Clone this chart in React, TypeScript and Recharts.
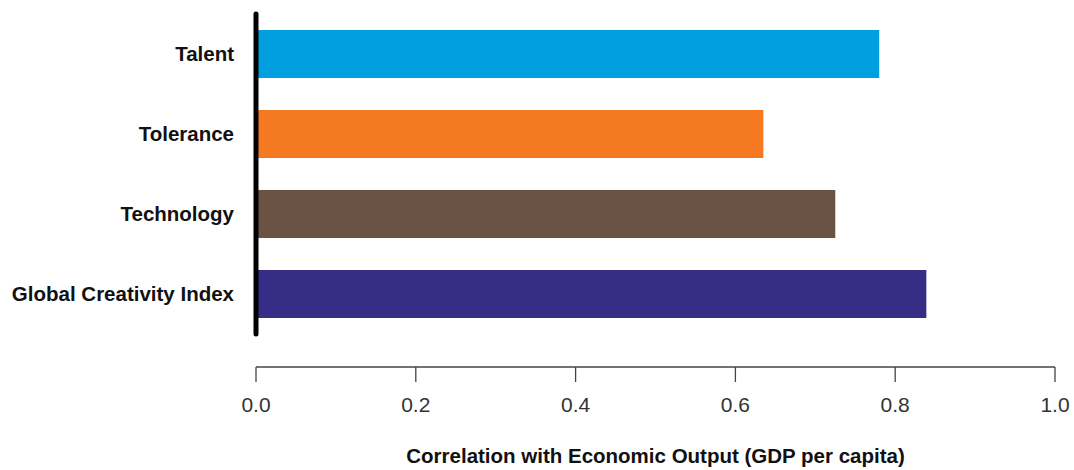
import React from "react";
import { BarChart, Bar, Cell, XAxis, YAxis } from "recharts";

const categories = ["Talent", "Tolerance", "Technology", "Global Creativity Index"];
const correlations = [0.78, 0.635, 0.725, 0.839];
const barColors = ["#009FDF", "#F47920", "#6B5344", "#352D86"];
const xTicks = [0, 0.2, 0.4, 0.6, 0.8, 1.0];

const data = categories.map((name, i) => ({ name, value: correlations[i] }));

const FONT = "'Liberation Sans', Arial, Helvetica, sans-serif";

export default function App() {
    return (
        <div style={{ position: "absolute", left: 0, top: 0, background: "#fff" }}>
            <BarChart
                width={1074}
                height={470}
                data={data}
                layout="vertical"
                margin={{ top: 14, right: 19, bottom: 0, left: 0 }}
            >
                <XAxis
                    type="number"
                    domain={[0, 1]}
                    ticks={xTicks}
                    tickFormatter={(v) => v.toFixed(1)}
                    axisLine={{ stroke: "#444", strokeWidth: 1.3 }}
                    tickLine={{ stroke: "#444", strokeWidth: 1.3 }}
                    tickSize={15}
                    tickMargin={15}
                    tick={{ fontSize: 21, fill: "#333", fontFamily: FONT }}
                    height={103}
                    label={{
                        value: "Correlation with Economic Output (GDP per capita)",
                        position: "insideBottom",
                        offset: 7,
                        style: { fontSize: 20.5, fontWeight: 700, fill: "#111", fontFamily: FONT },
                    }}
                />
                <YAxis
                    type="category"
                    dataKey="name"
                    width={256}
                    padding={{ top: 0, bottom: 33 }}
                    axisLine={{ stroke: "#000", strokeWidth: 5, strokeLinecap: "round", strokeDasharray: "320 1000" }}
                    tickLine={false}
                    tickSize={0}
                    tickMargin={22}
                    tick={{ fontSize: 20.5, fontWeight: 700, fill: "#111", fontFamily: FONT }}
                />
                <Bar dataKey="value" barSize={48} isAnimationActive={false}>
                    {data.map((d, i) => (
                        <Cell key={d.name} fill={barColors[i]} />
                    ))}
                </Bar>
            </BarChart>
        </div>
    );
}
